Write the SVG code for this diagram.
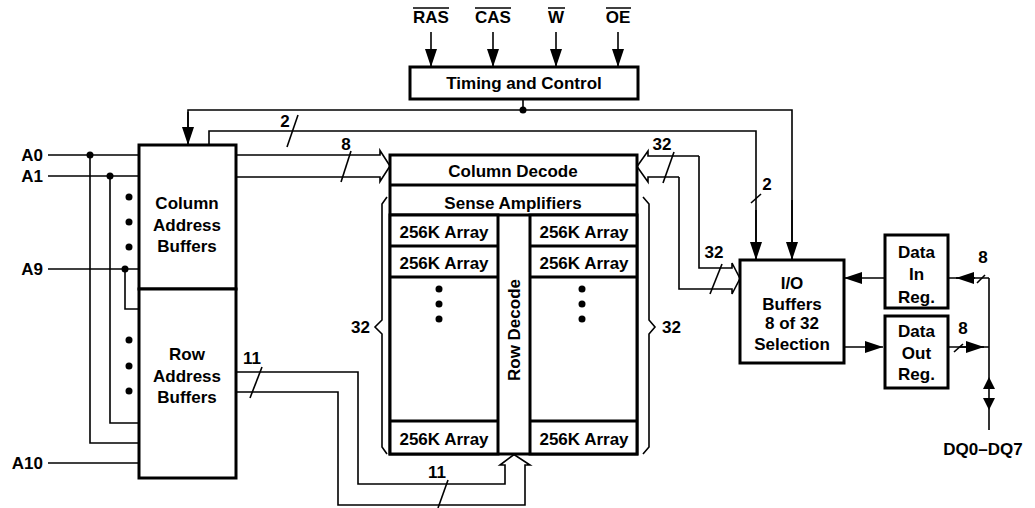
<svg xmlns="http://www.w3.org/2000/svg" width="1035" height="508" viewBox="0 0 1035 508">
<style>
text{font-family:"Liberation Sans",Arial,sans-serif;font-weight:bold;font-size:17px;fill:#000}
.c{text-anchor:middle}
.r{text-anchor:end}
.box{fill:#fff;stroke:#000;stroke-width:3}
.ln{fill:none;stroke:#000;stroke-width:1.6}
.dot{fill:#000}
</style>
<defs>
<marker id="ah" markerUnits="userSpaceOnUse" markerWidth="18" markerHeight="12" refX="18" refY="6" orient="auto" overflow="visible">
<path d="M0,0 L18,6 L0,12 Z" fill="#000"/>
</marker>
</defs>
<rect width="1035" height="508" fill="#fff"/>

<g id="connectors">
<line class="ln" x1="431" y1="32" x2="431" y2="67" marker-end="url(#ah)"/>
<line class="ln" x1="493" y1="32" x2="493" y2="67" marker-end="url(#ah)"/>
<line class="ln" x1="556" y1="32" x2="556" y2="67" marker-end="url(#ah)"/>
<line class="ln" x1="618" y1="32" x2="618" y2="67" marker-end="url(#ah)"/>
<line class="ln" x1="523" y1="99" x2="523" y2="110"/>
<circle class="dot" cx="523" cy="110" r="3.5"/>
<polyline class="ln" points="188,144 188,110 792,110 792,259" />
<line class="ln" x1="188" y1="112" x2="188" y2="145" marker-end="url(#ah)"/>
<line class="ln" x1="792" y1="200" x2="792" y2="260" marker-end="url(#ah)"/>
<polyline class="ln" points="209,145 209,131 756,131 756,259"/>
<line class="ln" x1="756" y1="210" x2="756" y2="260" marker-end="url(#ah)"/>
<line class="ln" x1="298" y1="115" x2="287" y2="147"/>
<text class="c" x="285" y="127">2</text>
<line class="ln" x1="751" y1="203" x2="761" y2="194"/>
<text class="c" x="767" y="190">2</text>
<line class="ln" x1="48" y1="155" x2="139" y2="155"/>
<line class="ln" x1="48" y1="176" x2="139" y2="176"/>
<line class="ln" x1="48" y1="269" x2="139" y2="269"/>
<line class="ln" x1="48" y1="463" x2="139" y2="463"/>
<polyline class="ln" points="90,155 90,443 139,443"/>
<polyline class="ln" points="110,176 110,423 139,423"/>
<polyline class="ln" points="125,269 125,309 139,309"/>
<circle class="dot" cx="90" cy="155" r="3.5"/>
<circle class="dot" cx="110" cy="176" r="3.5"/>
<circle class="dot" cx="125" cy="269" r="3.5"/>
<circle class="dot" cx="129" cy="197" r="3.5"/>
<circle class="dot" cx="129" cy="222" r="3.5"/>
<circle class="dot" cx="129" cy="247" r="3.5"/>
<circle class="dot" cx="129" cy="340" r="3.5"/>
<circle class="dot" cx="129" cy="366" r="3.5"/>
<circle class="dot" cx="129" cy="391" r="3.5"/>
<polyline class="ln" points="236,155 380,155 380,150.5 390,166 380,181.5 380,177 236,177"/>
<line class="ln" x1="351" y1="151" x2="341" y2="182"/>
<text class="c" x="346" y="150">8</text>
<polyline class="ln" points="699,156 648,156 648,151 637,166.5 648,182 648,177 679,177"/>
<polyline class="ln" points="699,156 699,268 732,268 732,263 740,278.5 732,294 732,289 679,289 679,177"/>
<line class="ln" x1="674" y1="152" x2="663" y2="183"/>
<text class="c" x="662" y="150">32</text>
<line class="ln" x1="722" y1="264" x2="710" y2="294"/>
<text class="c" x="714" y="258">32</text>
<polyline class="ln" points="236,372 358,372 358,484 505,484 505,465 500,465 514,454.5 530,465 525,465 525,505 338,505 338,392 236,392"/>
<line class="ln" x1="262" y1="367" x2="250" y2="398"/>
<text class="c" x="252" y="364">11</text>
<line class="ln" x1="448" y1="480" x2="438" y2="508"/>
<text class="c" x="437" y="478">11</text>
<polyline class="ln" points="387,197 382,204 382,320 375,327 382,334 382,447 387,454"/>
<polyline class="ln" points="643,197 649,204 649,320 655,327 649,334 649,447 643,454"/>
<text class="r" x="370" y="333">32</text>
<text x="662" y="333">32</text>
<line class="ln" x1="885" y1="278" x2="844" y2="278" marker-end="url(#ah)"/>
<line class="ln" x1="844" y1="347" x2="883" y2="347" marker-end="url(#ah)"/>
<polyline class="ln" points="989,278 989,430"/>
<line class="ln" x1="948" y1="278" x2="989" y2="278"/>
<line class="ln" x1="975" y1="278" x2="956" y2="278" marker-end="url(#ah)"/>
<line class="ln" x1="948" y1="347" x2="989" y2="347"/>
<line class="ln" x1="960" y1="347" x2="984" y2="347" marker-end="url(#ah)"/>
<line class="ln" x1="977" y1="283" x2="985" y2="275"/>
<text class="c" x="983" y="263">8</text>
<line class="ln" x1="954" y1="352" x2="963" y2="344"/>
<text class="c" x="963" y="334">8</text>
<path d="M983,389 L989,377 L995,389 Z" fill="#000"/>
<path d="M983,398 L989,410 L995,398 Z" fill="#000"/>
</g>

<g id="signals">
<text class="c" x="431" y="23">RAS</text>
<line x1="413" y1="8" x2="449" y2="8" stroke="#000" stroke-width="1.5"/>
<text class="c" x="493" y="23">CAS</text>
<line x1="475" y1="8" x2="511" y2="8" stroke="#000" stroke-width="1.5"/>
<text class="c" x="556" y="23">W</text>
<line x1="548" y1="8" x2="565" y2="8" stroke="#000" stroke-width="1.5"/>
<text class="c" x="618" y="23">OE</text>
<line x1="606" y1="8" x2="631" y2="8" stroke="#000" stroke-width="1.5"/>
<text class="r" x="43" y="161">A0</text>
<text class="r" x="43" y="182">A1</text>
<text class="r" x="43" y="275">A9</text>
<text class="r" x="43" y="469">A10</text>
<text class="c" x="983" y="455">DQ0–DQ7</text>
</g>

<g id="timing">
<rect class="box" x="410" y="67" width="228" height="32"/>
<text class="c" x="524" y="89">Timing and Control</text>
</g>

<g id="col-addr">
<rect class="box" x="139" y="145" width="97" height="144"/>
<text class="c" x="187" y="209">Column</text>
<text class="c" x="187" y="231">Address</text>
<text class="c" x="187" y="252">Buffers</text>
</g>

<g id="row-addr">
<rect class="box" x="139" y="289" width="97" height="189"/>
<text class="c" x="187" y="360">Row</text>
<text class="c" x="187" y="382">Address</text>
<text class="c" x="187" y="403">Buffers</text>
</g>

<g id="array">
<rect class="box" x="390" y="155" width="247" height="299"/>
<line x1="390" y1="185" x2="637" y2="185" stroke="#000" stroke-width="3"/>
<line x1="390" y1="215" x2="637" y2="215" stroke="#000" stroke-width="3"/>
<text class="c" x="513" y="177">Column Decode</text>
<text class="c" x="513" y="209">Sense Amplifiers</text>
<rect class="box" x="390" y="215" width="108" height="239"/>
<rect class="box" x="530" y="215" width="107" height="239"/>
<line x1="390" y1="246" x2="498" y2="246" stroke="#000" stroke-width="3"/>
<line x1="390" y1="277" x2="498" y2="277" stroke="#000" stroke-width="3"/>
<line x1="390" y1="421" x2="498" y2="421" stroke="#000" stroke-width="3"/>
<line x1="530" y1="246" x2="637" y2="246" stroke="#000" stroke-width="3"/>
<line x1="530" y1="277" x2="637" y2="277" stroke="#000" stroke-width="3"/>
<line x1="530" y1="421" x2="637" y2="421" stroke="#000" stroke-width="3"/>
<text class="c" x="444" y="238">256K Array</text>
<text class="c" x="444" y="269">256K Array</text>
<text class="c" x="444" y="445">256K Array</text>
<text class="c" x="584" y="238">256K Array</text>
<text class="c" x="584" y="269">256K Array</text>
<text class="c" x="584" y="445">256K Array</text>
<circle class="dot" cx="439" cy="289" r="3.5"/>
<circle class="dot" cx="439" cy="304" r="3.5"/>
<circle class="dot" cx="439" cy="319" r="3.5"/>
<circle class="dot" cx="582" cy="289" r="3.5"/>
<circle class="dot" cx="582" cy="304" r="3.5"/>
<circle class="dot" cx="582" cy="319" r="3.5"/>
<text class="c" transform="translate(520,330) rotate(-90)">Row Decode</text>
</g>

<g id="io-buffers">
<rect class="box" x="740" y="260" width="104" height="103"/>
<text class="c" x="792" y="289">I/O</text>
<text class="c" x="792" y="310">Buffers</text>
<text class="c" x="792" y="329">8 of 32</text>
<text class="c" x="792" y="350">Selection</text>
</g>

<g id="data-in">
<rect class="box" x="885" y="235" width="63" height="73"/>
<text class="c" x="916.5" y="258">Data</text>
<text class="c" x="916.5" y="280">In</text>
<text class="c" x="916.5" y="303">Reg.</text>
</g>

<g id="data-out">
<rect class="box" x="885" y="316" width="63" height="72"/>
<text class="c" x="916.5" y="337">Data</text>
<text class="c" x="916.5" y="359">Out</text>
<text class="c" x="916.5" y="380">Reg.</text>
</g>
</svg>
